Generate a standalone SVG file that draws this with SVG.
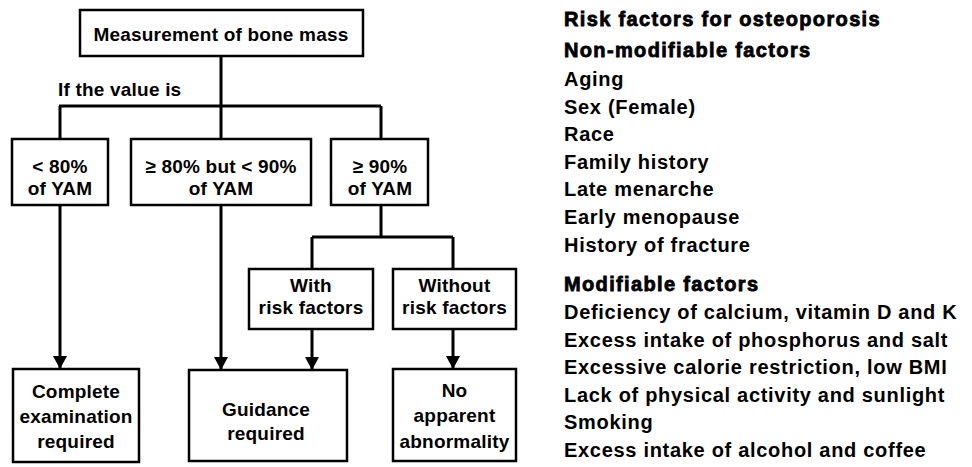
<svg xmlns="http://www.w3.org/2000/svg" width="972" height="467" viewBox="0 0 972 467">
<defs>
<marker id="arr" markerUnits="userSpaceOnUse" markerWidth="14" markerHeight="14" refX="13" refY="7" orient="auto">
<path d="M0,0 L13,7 L0,14 z" fill="#000"/>
</marker>
<style>
.box{fill:#fff;stroke:#000;stroke-width:2.5}
.t{font-family:"Liberation Sans",Arial,sans-serif;font-weight:bold;font-size:19px;fill:#000;text-anchor:middle;letter-spacing:0.2px}
.c{fill:none;stroke:#000;stroke-width:3}
.a{fill:none;stroke:#000;stroke-width:3;marker-end:url(#arr)}
.r{font-family:"Liberation Sans",Arial,sans-serif;font-weight:bold;font-size:20px;fill:#000;letter-spacing:0.7px}
.h{font-family:"Liberation Sans",Arial,sans-serif;font-weight:bold;font-size:20px;fill:#000;stroke:#000;stroke-width:0.8;letter-spacing:1.35px}
</style>
</defs>
<rect width="972" height="467" fill="#fff"/>
<g id="connectors">
<path class="c" d="M221,56 V106 M59,106 H381 M60,106 V139 M221,106 V139 M381,106 V139"/>
<path class="a" d="M60,205 V369"/>
<path class="a" d="M221,205 V370"/>
<path class="c" d="M381,205 V237 M312,237 H453 M312,237 V269 M453,237 V269"/>
<path class="a" d="M312,329 V370"/>
<path class="a" d="M453,329 V369"/>
</g>
<text class="t" x="58" y="96" style="text-anchor:start">If the value is</text>
<g id="measure">
<rect class="box" x="80" y="10" width="283" height="46"/>
<text class="t" x="221" y="41">Measurement of bone mass</text>
</g>
<g id="lt80">
<rect class="box" x="12" y="139" width="96" height="66"/>
<text class="t" x="60" y="173">&lt; 80%</text>
<text class="t" x="60" y="195">of YAM</text>
</g>
<g id="b80_90">
<rect class="box" x="131" y="139" width="180" height="66"/>
<text class="t" x="221" y="173">≥ 80% but &lt; 90%</text>
<text class="t" x="221" y="195">of YAM</text>
</g>
<g id="ge90">
<rect class="box" x="331" y="139" width="97" height="66"/>
<text class="t" x="380" y="173">≥ 90%</text>
<text class="t" x="380" y="195">of YAM</text>
</g>
<g id="with">
<rect class="box" x="249" y="269" width="124" height="60"/>
<text class="t" x="311" y="292">With</text>
<text class="t" x="311" y="314">risk factors</text>
</g>
<g id="without">
<rect class="box" x="393" y="269" width="123" height="60"/>
<text class="t" x="454.5" y="292">Without</text>
<text class="t" x="454.5" y="314">risk factors</text>
</g>
<g id="complete">
<rect class="box" x="13" y="369" width="126" height="93"/>
<text class="t" x="76" y="398">Complete</text>
<text class="t" x="76" y="423">examination</text>
<text class="t" x="76" y="448">required</text>
</g>
<g id="guidance">
<rect class="box" x="189" y="370" width="158" height="91"/>
<text class="t" x="266" y="416">Guidance</text>
<text class="t" x="266" y="440">required</text>
</g>
<g id="noabn">
<rect class="box" x="393" y="369" width="123" height="92"/>
<text class="t" x="454.5" y="397">No</text>
<text class="t" x="454.5" y="422">apparent</text>
<text class="t" x="454.5" y="448">abnormality</text>
</g>
<g id="risk-factors">
<text class="h" x="564" y="26">Risk factors for osteoporosis</text>
<text class="h" x="564" y="57">Non-modifiable factors</text>
<text class="r" x="564" y="86">Aging</text>
<text class="r" x="564" y="113.5">Sex (Female)</text>
<text class="r" x="564" y="141">Race</text>
<text class="r" x="564" y="168.5">Family history</text>
<text class="r" x="564" y="196">Late menarche</text>
<text class="r" x="564" y="223.5">Early menopause</text>
<text class="r" x="564" y="252">History of fracture</text>
<text class="h" x="564" y="291">Modifiable factors</text>
<text class="r" x="564" y="319">Deficiency of calcium, vitamin D and K</text>
<text class="r" x="564" y="346.5">Excess intake of phosphorus and salt</text>
<text class="r" x="564" y="374">Excessive calorie restriction, low BMI</text>
<text class="r" x="564" y="401.5">Lack of physical activity and sunlight</text>
<text class="r" x="564" y="429">Smoking</text>
<text class="r" x="564" y="456.5">Excess intake of alcohol and coffee</text>
</g>
</svg>
